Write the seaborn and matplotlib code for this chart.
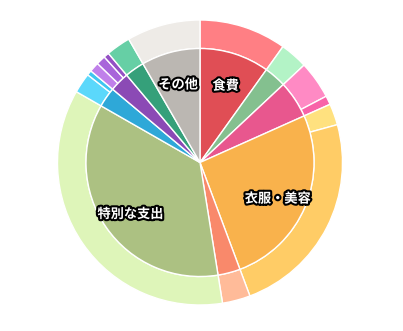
import matplotlib
matplotlib.use("Agg")
import matplotlib.pyplot as plt
import matplotlib.patheffects as pe
import numpy as np
import seaborn as sns

sns.set_theme(style="white")
plt.rcParams['font.family'] = ['Noto Sans CJK JP', 'DejaVu Sans']

# Inner ring: categories (clockwise from 12 o'clock)
categories = ["食費", "日用品", "交際費", "衣服・美容", "交通費", "特別な支出",
              "通信費", "趣味", "医療費", "その他"]
inner_colors = ["#e04e55", "#84c08f", "#e8578e", "#f9b24c", "#f9896b",
                "#acc182", "#2ea8d8", "#8b4ab5", "#35a07a", "#bbb7b2"]

# Outer ring: subcategory values and the category each belongs to
sub_values = [35.6, 11.3, 15.4, 3.6, 8.7, 84.9, 11.4, 128.9,
              8.2, 2.0, 4.0, 3.8, 2.2, 10.0, 30.0]
sub_parent = [0, 1, 2, 2, 3, 3, 4, 5, 6, 6, 7, 7, 7, 8, 9]
sub_colors = ["#ff7f84", "#b3f3c6", "#ff8ac4", "#f862a8", "#ffe17f", "#ffcc66",
              "#ffbb99", "#def5b9", "#5bd8fb", "#3fc6f0", "#c080ea", "#a865da",
              "#9450c4", "#66cfa5", "#eeebe7"]

inner_values = [sum(v for v, p in zip(sub_values, sub_parent) if p == i)
                for i in range(len(categories))]

W, H = 403, 331
fig = plt.figure(figsize=(W / 100, H / 100), dpi=100)
ax = fig.add_axes([0, 0, 1, 1])
ax.set_xlim(0, W)
ax.set_ylim(0, H)
ax.set_aspect('equal')
ax.axis('off')

cx, cy = 200, H - 162.5
r_out, r_in = 142.5, 114

ax.pie(sub_values, colors=sub_colors, radius=r_out, center=(cx, cy),
       startangle=90, counterclock=False,
       wedgeprops=dict(width=r_out - r_in, edgecolor='white', linewidth=1.0))
wedges, _ = ax.pie(inner_values, colors=inner_colors, radius=r_in, center=(cx, cy),
                   startangle=90, counterclock=False,
                   wedgeprops=dict(edgecolor='white', linewidth=1.0))
ax.set_xlim(0, W)
ax.set_ylim(0, H)

total = sum(inner_values)
for w, name, v in zip(wedges, categories, inner_values):
    if v / total < 0.06:
        continue
    ang = np.deg2rad((w.theta1 + w.theta2) / 2)
    rr = 0.74 * r_in
    x = cx + rr * np.cos(ang)
    y = cy + rr * np.sin(ang) - 3.5
    ax.text(x, y, name, ha='center', va='center', fontsize=9.5,
            fontweight='bold', color='white',
            path_effects=[pe.withStroke(linewidth=3, foreground='black')])

fig.savefig("out.png", dpi=100)
